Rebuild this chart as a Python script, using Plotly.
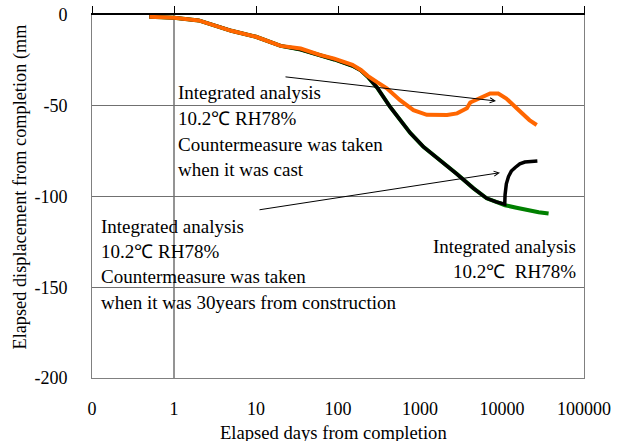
import plotly.graph_objects as go

# ---- data ----
green_x = [0.5, 1, 2, 5, 10, 20, 35, 60, 90, 150, 190, 230, 300, 430, 570, 760, 1100, 1760,
           2800, 4500, 6500, 8500, 10900, 15000, 20000, 28000, 37000]
green_y = [-1, -1.5, -3, -8.7, -12, -17, -19, -22, -24.5, -28, -30.5, -34, -40, -50.5, -58, -65,
           -72.6, -80, -87.5, -95.5, -101, -103, -104.8, -106.2, -107.6, -108.7, -109.4]

black_x = [0.5, 1, 2, 5, 10, 20, 35, 60, 90, 150, 190, 230, 300, 430, 570, 760, 1100, 1760,
           2800, 4500, 6500, 8500, 10800, 10900, 11300, 12000, 13000, 14500, 16500, 19000,
           22000, 27000]
black_y = [-1, -1.5, -3, -8.7, -12, -17, -19, -22, -24.5, -28, -30.5, -34, -40, -50.5, -58, -65,
           -72.6, -80, -87.5, -95.5, -101, -103, -104.3, -99, -93, -89, -86, -84, -82, -81,
           -80.6, -80.5]

orange_x = [0.5, 1, 2, 5, 10, 20, 35, 60, 90, 150, 190, 230, 300, 394, 571, 832, 1210, 2140,
            2830, 3730, 4100, 5400, 7160, 9000, 11300, 15100, 21600, 26500]
orange_y = [-1, -1.5, -3, -8.7, -12, -17, -18.5, -22, -24, -27.5, -30.3, -33.5, -37, -40.4,
            -46.9, -52.4, -55, -55.1, -54.2, -51.4, -48.2, -45.5, -43.2, -43.3, -46, -51.4,
            -57.9, -60.6]

x_tickvals = [0.1, 1, 10, 100, 1000, 10000, 100000]
x_ticktext = ["0", "1", "10", "100", "1000", "10000", "100000"]
y_tickvals = [0, -50, -100, -150, -200]
y_ticktext = ["0", "-50", "-100", "-150", "-200"]

note1 = ["Integrated analysis", "10.2℃ RH78%", "Countermeasure was taken", "when it was cast"]
note2 = ["Integrated analysis", "10.2℃ RH78%", "Countermeasure was taken",
         "when it was 30years from construction"]
note3 = ["Integrated analysis", "10.2℃\u00a0 RH78%"]

FONT = "Liberation Serif, Times New Roman, serif"
L, R, T, B = 92, 36, 15, 63
W, H = 620, 441
PW, PH = W - L - R, H - T - B


def px(xp):
    return (xp - L) / PW


def py(yp):
    return (H - B - yp) / PH


fig = go.Figure()
fig.add_trace(go.Scatter(x=green_x, y=green_y, mode="lines",
                         line=dict(color="#008000", width=4), showlegend=False))
fig.add_trace(go.Scatter(x=black_x, y=black_y, mode="lines",
                         line=dict(color="#000000", width=3.5), showlegend=False))
fig.add_trace(go.Scatter(x=orange_x, y=orange_y, mode="lines",
                         line=dict(color="#FF6600", width=4), showlegend=False))
# dummy trace for top axis
fig.add_trace(go.Scatter(x=[1], y=[0], xaxis="x2", mode="markers",
                         marker=dict(opacity=0), showlegend=False, hoverinfo="skip"))

AF = dict(family=FONT, size=19, color="black")
anns = []
for i, t in enumerate(note1):
    anns.append(dict(x=px(175.5), y=py([92, 118.5, 144.5, 169.5][i]), xref="paper",
                     yref="paper", text=t, showarrow=False, xanchor="left",
                     yanchor="middle", font=AF))
for i, t in enumerate(note2):
    anns.append(dict(x=px(98.5), y=py([226.5, 251.5, 276.5, 302][i]), xref="paper",
                     yref="paper", text=t, showarrow=False, xanchor="left",
                     yanchor="middle", font=AF))
for i, t in enumerate(note3):
    anns.append(dict(x=px(578), y=py([246, 271][i]), xref="paper", yref="paper",
                     text=t, showarrow=False, xanchor="right", yanchor="middle", font=AF))
# arrows
anns.append(dict(x=px(496), y=py(101), xref="paper", yref="paper", text="",
                 showarrow=True, arrowhead=5, arrowsize=1, arrowwidth=1, arrowcolor="black",
                 ax=284 - 496, ay=76.7 - 101, standoff=0))
anns.append(dict(x=px(500), y=py(172.7), xref="paper", yref="paper", text="",
                 showarrow=True, arrowhead=5, arrowsize=1, arrowwidth=1, arrowcolor="black",
                 ax=258 - 500, ay=210 - 172.7, standoff=0))
# axis titles
anns.append(dict(x=px(333), y=py(432), xref="paper", yref="paper",
                 text="Elapsed days from completion", showarrow=False,
                 xanchor="center", yanchor="middle", font=dict(family=FONT, size=18.6)))
anns.append(dict(x=px(20), y=py(187.5), xref="paper", yref="paper",
                 text="Elapsed displacement from completion (mm", showarrow=False,
                 textangle=-90, xanchor="center", yanchor="middle",
                 font=dict(family=FONT, size=18.3)))

fig.update_layout(
    width=W, height=H,
    margin=dict(l=L, r=R, t=T, b=B, autoexpand=False),
    paper_bgcolor="white", plot_bgcolor="white",
    font=dict(family=FONT, size=18, color="black"),
    annotations=anns,
    xaxis=dict(type="log", range=[-1, 5], tickvals=x_tickvals, ticktext=x_ticktext,
               showgrid=False, zeroline=False, showline=True, linecolor="#808080",
               linewidth=1, mirror=True, ticks="", ticklabelstandoff=14, automargin=False,
               tickfont=dict(family=FONT, size=18)),
    xaxis2=dict(type="log", range=[-1, 5], overlaying="x", side="top",
                tickvals=x_tickvals, showticklabels=False, ticks="outside", ticklen=7,
                tickcolor="black", showgrid=False, zeroline=False, showline=True,
                linecolor="black", linewidth=1.5, automargin=False),
    yaxis=dict(range=[-200, 0], tickvals=y_tickvals, ticktext=y_ticktext, showgrid=True,
               gridcolor="#707070", gridwidth=1, zeroline=False, showline=True,
               linecolor="#808080", mirror=True, ticks="", ticklabelstandoff=20,
               automargin=False, tickfont=dict(family=FONT, size=18)),
    shapes=[dict(type="line", xref="x", yref="paper", x0=1, x1=1, y0=0, y1=1,
                 line=dict(color="#707070", width=1.5), layer="below")],
)

fig.write_html("out.html", config={"displayModeBar": False},
               post_script="document.body.style.margin='0';"
               "document.body.style.overflow='hidden';")
